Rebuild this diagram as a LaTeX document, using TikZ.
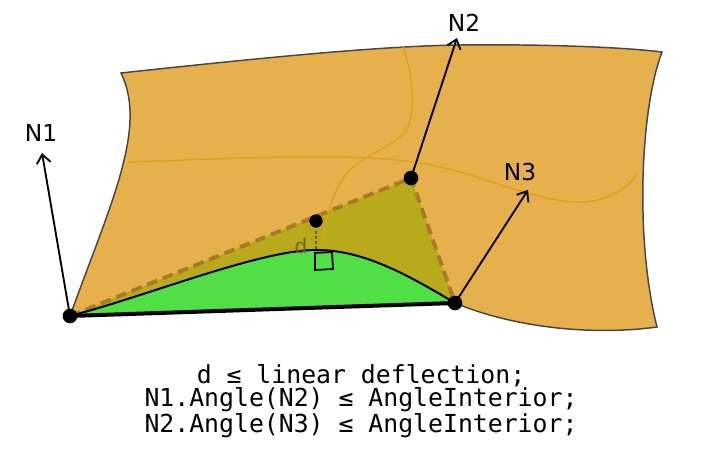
\documentclass[tikz,border=0pt]{standalone}
\usepackage{fontspec}
\usepackage{tikz}
\usetikzlibrary{calc,arrows.meta}
\newfontfamily\labelfont{DejaVu Sans}
\newfontfamily\codefont{DejaVu Sans Mono}
\definecolor{surf}{RGB}{230,176,76}
\definecolor{surfline}{RGB}{70,70,70}
\definecolor{iso}{RGB}{226,160,20}
\definecolor{olive}{RGB}{185,170,27}
\definecolor{meshgreen}{RGB}{80,224,70}
\definecolor{dashbrown}{RGB}{172,122,38}
\definecolor{dlabel}{RGB}{110,95,30}
\tikzset{
  vertex/.style={circle,fill=black,inner sep=0pt,minimum size=11pt},
  normal/.style={line width=1.4pt,-{Straight Barb[length=6.5pt,width=10.5pt,line width=1.4pt]}},
  nlabel/.style={font=\labelfont\fontsize{17.5pt}{20pt}\selectfont,inner sep=0pt}
}

\begin{document}
\begin{tikzpicture}[x=0.75pt,y=-0.75pt]
\useasboundingbox (0,0) rectangle (706,463);
\coordinate (P1) at (70,316);
\coordinate (P2) at (411,178);
\coordinate (P3) at (455,303);
\coordinate (D) at (316,221);
\coordinate (F) at (316,250);
% surface
\fill[surf] (P1) .. controls (110,205) and (148,128) .. (121,73)
  .. controls (260,58) and (380,46) .. (460,45)
  .. controls (560,44) and (630,48) .. (662,52)
  .. controls (640,110) and (635,240) .. (657,327)
  .. controls (600,335) and (520,330) .. (P3)
  .. controls (400,270) and (360,250) .. (F)
  .. controls (260,250) and (150,295) .. (P1) -- cycle;
\draw[surfline,line width=1.1pt] (P1) .. controls (110,205) and (148,128) .. (121,73)
  .. controls (260,58) and (380,46) .. (460,45)
  .. controls (560,44) and (630,48) .. (662,52)
  .. controls (640,110) and (635,240) .. (657,327)
  .. controls (600,335) and (520,330) .. (P3);
% triangle
\fill[meshgreen] (P1) -- (P2) -- (P3) -- cycle;
\fill[olive] (P1) -- (P2) -- (P3) .. controls (400,270) and (360,250) .. (F)
  .. controls (260,250) and (150,295) .. (P1) -- cycle;
% iso lines
\draw[iso,line width=1pt] (128,162) .. controls (250,158) and (350,152) .. (420,163)
  .. controls (480,173) and (530,200) .. (575,202)
  .. controls (605,203) and (625,190) .. (637,175);
\draw[iso,line width=1pt] (403,47) .. controls (415,80) and (415,120) .. (405,132)
  .. controls (395,145) and (365,155) .. (350,170)
  .. controls (335,185) and (323,220) .. (322,250);
% edges
\draw[dashbrown,line width=3pt,dash pattern=on 8pt off 4.5pt] (P1) -- (P2) -- (P3);
\draw[line width=1.5pt] (P3) .. controls (400,270) and (360,250) .. (F)
  .. controls (260,250) and (150,295) .. (P1);
\draw[line width=3pt] (P1) -- (P3);
% deflection
\draw[dlabel,line width=1.8pt,dotted] (D) -- (F);
\draw[line width=1.3pt] (315,253) -- (332,252) -- (333,269) -- (315,270) -- cycle;
\node[nlabel,text=dlabel,font=\labelfont\fontsize{15pt}{17pt}\selectfont] (dl) at (301,246) {d};
% normals
\coordinate (T1) at (42,153);
\coordinate (T2) at (457,38);
\coordinate (T3) at (528,190);
\node[nlabel] (n1) at (41,133) {N1};
\node[nlabel] (n2) at (464,23) {N2};
\node[nlabel] (n3) at (520,172) {N3};
\draw[normal] (P1) -- (T1);
\draw[normal] (P2) -- (T2);
\draw[normal] (P3) -- (T3);
% vertices
\node[vertex] (v1) at (P1) {};
\node[vertex] (v2) at (P2) {};
\node[vertex] (v3) at (P3) {};
\node[vertex,minimum size=10pt] (vd) at (D) {};
% conditions
\node[anchor=north,align=center,inner sep=0pt,font=\codefont\fontsize{18.6pt}{17.6pt}\selectfont] (cond) at (361,364)
  {d ≤ linear deflection;\\N1.Angle(N2) ≤ AngleInterior;\\N2.Angle(N3) ≤ AngleInterior;};
\end{tikzpicture}
\end{document}
